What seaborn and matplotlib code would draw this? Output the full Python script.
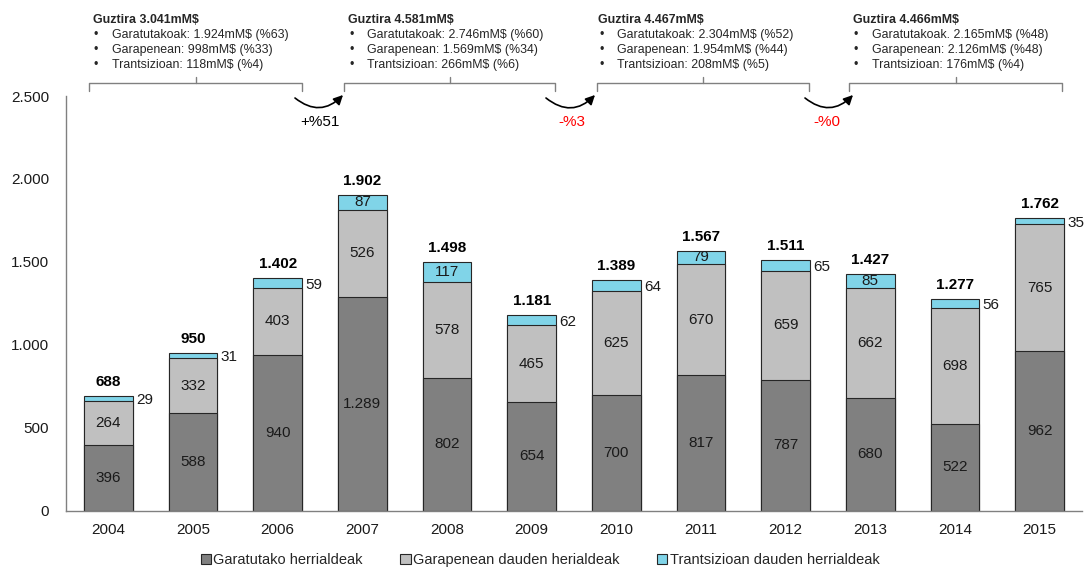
import matplotlib
matplotlib.use("Agg")
import matplotlib.pyplot as plt
import seaborn as sns
import pandas as pd
from matplotlib.patches import Patch
from matplotlib.lines import Line2D

# ---------------- data ----------------
years = ["2004", "2005", "2006", "2007", "2008", "2009", "2010", "2011", "2012", "2013", "2014", "2015"]
garatutako = [396, 588, 940, 1289, 802, 654, 700, 817, 787, 680, 522, 962]
garapenean = [264, 332, 403, 526, 578, 465, 625, 670, 659, 662, 698, 765]
trantsizio = [29, 31, 59, 87, 117, 62, 64, 79, 65, 85, 56, 35]
totals = [688, 950, 1402, 1902, 1498, 1181, 1389, 1567, 1511, 1427, 1277, 1762]

series_names = ["Garatutako herrialdeak", "Garapenean dauden herialdeak", "Trantsizioan dauden herrialdeak"]

period_headers = ["Guztira 3.041mM$", "Guztira 4.581mM$", "Guztira 4.467mM$", "Guztira 4.466mM$"]
period_lines = [
    ["Garatutakoak: 1.924mM$ (%63)", "Garapenean: 998mM$ (%33)", "Trantsizioan: 118mM$ (%4)"],
    ["Garatutakoak: 2.746mM$ (%60)", "Garapenean: 1.569mM$ (%34)", "Trantsizioan: 266mM$ (%6)"],
    ["Garatutakoak: 2.304mM$ (%52)", "Garapenean: 1.954mM$ (%44)", "Trantsizioan: 208mM$ (%5)"],
    ["Garatutakoak. 2.165mM$ (%48)", "Garapenean: 2.126mM$ (%48)", "Trantsizioan: 176mM$ (%4)"],
]
changes = ["+%51", "-%3", "-%0"]
change_colors = ["black", "red", "red"]

# ---------------- style ----------------
sns.set_style("white")
plt.rcParams["font.family"] = ["Liberation Sans", "DejaVu Sans"]

C_DARK = "#808080"
C_LIGHT = "#c0c0c0"
C_CYAN = "#80d4e8"
EDGE = "#262626"

W, H = 1088, 570
fig = plt.figure(figsize=(W / 100, H / 100), dpi=100)
ax = fig.add_axes([66 / W, (H - 510.7) / H, 1016 / W, 414.7 / H])

df = pd.DataFrame({"year": years, "g": garatutako, "p": garapenean, "t": trantsizio})
df["gp"] = df["g"] + df["p"]
df["gpt"] = df["gp"] + df["t"]

bw = 0.573
common = dict(edgecolor=EDGE, linewidth=0.8, width=bw, saturation=1, ax=ax)
sns.barplot(data=df, x="year", y="gpt", color=C_CYAN, **common)
sns.barplot(data=df, x="year", y="gp", color=C_LIGHT, **common)
sns.barplot(data=df, x="year", y="g", color=C_DARK, **common)

def fmt(v):
    return f"{v:,}".replace(",", ".")

for i in range(len(years)):
    g, p, t = garatutako[i], garapenean[i], trantsizio[i]
    ax.text(i, g / 2, fmt(g), ha="center", va="center", fontsize=11, color="#1a1a1a")
    ax.text(i, g + p / 2, fmt(p), ha="center", va="center", fontsize=11, color="#1a1a1a")
    top = g + p + t
    if t >= 75:
        ax.text(i, g + p + t / 2, fmt(t), ha="center", va="center", fontsize=11, color="#1a1a1a")
    else:
        ax.text(i + bw / 2 + 0.04, g + p + t / 2 - 10, fmt(t), ha="left", va="center",
                fontsize=11, color="#1a1a1a")
    ax.annotate(fmt(totals[i]), (i, top), xytext=(0, 5), textcoords="offset points",
                ha="center", va="bottom", fontsize=11, fontweight="bold", color="black")

ax.set_xlim(-0.5, 11.5)
ax.set_ylim(0, 2500)
ax.set_yticks(range(0, 2501, 500))
ax.set_yticklabels([fmt(v) for v in range(0, 2501, 500)])
ax.set_xlabel("")
ax.set_ylabel("")
ax.tick_params(axis="both", length=0, labelsize=11, colors="#1a1a1a")
ax.tick_params(axis="x", pad=9)
ax.tick_params(axis="y", pad=12)
for s in ["top", "right"]:
    ax.spines[s].set_visible(False)
for s in ["left", "bottom"]:
    ax.spines[s].set_color("#808080")
    ax.spines[s].set_linewidth(1.0)

# legend
handles = [Patch(facecolor=c, edgecolor=EDGE, linewidth=0.8) for c in (C_DARK, C_LIGHT, C_CYAN)]
fig.legend(handles, series_names, loc="center", bbox_to_anchor=(540 / W, 1 - 560 / H),
           ncol=3, frameon=False, fontsize=10.5, handlelength=0.7, handleheight=0.7,
           handletextpad=0.15, columnspacing=2.6, borderpad=0)

# ---------------- top annotations (figure pixel layout) ----------------
def fx(px):
    return px / W

def fy(py):
    return 1 - py / H

block_x = [93, 348, 598, 853]
for bx, head, lines in zip(block_x, period_headers, period_lines):
    fig.text(fx(bx), fy(20), head, fontsize=8.9, fontweight="bold", va="center", ha="left")
    for k, ln in enumerate(lines):
        yy = fy(35 + 15 * k)
        fig.text(fx(bx + 1), yy, "\u2022", fontsize=8.9, va="center", ha="left")
        fig.text(fx(bx + 19), yy, ln, fontsize=8.9, va="center", ha="left")

brackets = [(89, 302), (344, 555), (597, 809), (849, 1062)]
for x0, x1 in brackets:
    xm = (x0 + x1) / 2
    fig.add_artist(Line2D([fx(x0), fx(x0), fx(x1), fx(x1)], [fy(91), fy(83), fy(83), fy(91)],
                          transform=fig.transFigure, color="#808080", lw=1.0))
    fig.add_artist(Line2D([fx(xm), fx(xm)], [fy(83), fy(77)],
                          transform=fig.transFigure, color="#808080", lw=1.0))

arrows = [((295, 98), (343, 95)), ((546, 98), (595, 95)), ((805, 98), (853, 95))]
label_pos = [(320, 122), (572, 122), (827, 122)]
for (s, e), lp, txt, col in zip(arrows, label_pos, changes, change_colors):
    ax.annotate("", xy=(e[0], H - e[1]), xytext=(s[0], H - s[1]), xycoords="figure pixels",
                textcoords="figure pixels", annotation_clip=False,
                arrowprops=dict(arrowstyle="-|>", connectionstyle="arc3,rad=0.45",
                                color="black", lw=1.2, mutation_scale=14,
                                shrinkA=0, shrinkB=0))
    fig.text(fx(lp[0]), fy(lp[1]), txt, fontsize=11, color=col, ha="center", va="center")

fig.savefig("out.png", dpi=100)
